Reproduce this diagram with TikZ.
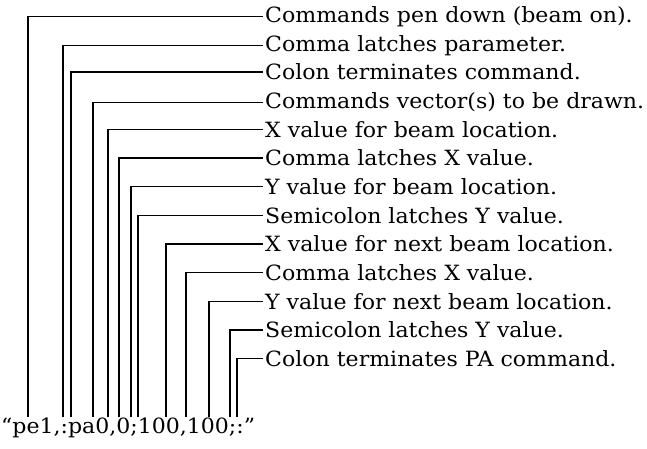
\documentclass[tikz,border=0pt]{standalone}
\usepackage{fontspec}
\setmainfont{DejaVu Serif}
\newfontfamily\lblfont[FakeStretch=1.05]{DejaVu Serif}
\newfontfamily\strfont[FakeStretch=1.05]{DejaVu Serif}
\begin{document}
\begin{tikzpicture}[x=1pt,y=-1pt,
  lbl/.style={anchor=mid west,inner sep=0pt,font=\lblfont\fontsize{21}{24}\selectfont},
  lead/.style={line width=1.3pt}]
\useasboundingbox (0,0) rectangle (647,449);
\foreach \i/\t in {0/{Commands pen down (beam on).},1/{Comma latches parameter.},2/{Colon terminates command.},3/{Commands vector(s) to be drawn.},4/{X value for beam location.},5/{Comma latches X value.},6/{Y value for beam location.},7/{Semicolon latches Y value.},8/{X value for next beam location.},9/{Comma latches X value.},10/{Y value for next beam location.},11/{Semicolon latches Y value.},12/{Colon terminates PA command.}}
  \node[lbl] (t\i) at (265,{20+28.67*\i}) {\t};
\node[anchor=mid west,inner sep=0pt,font=\strfont\fontsize{21}{24}\selectfont] (s) at (1,431) {“pe1,:pa0,0;100,100;:”};
\foreach \i/\x in {0/28,1/63,2/71,3/93,4/108,5/119,6/131,7/138,8/166,9/186,10/209,11/230,12/237}{
  \coordinate (c\i) at (\x,417);
  \draw[lead] (c\i) |- ([xshift=-2pt]t\i.west);
}
\end{tikzpicture}
\end{document}
